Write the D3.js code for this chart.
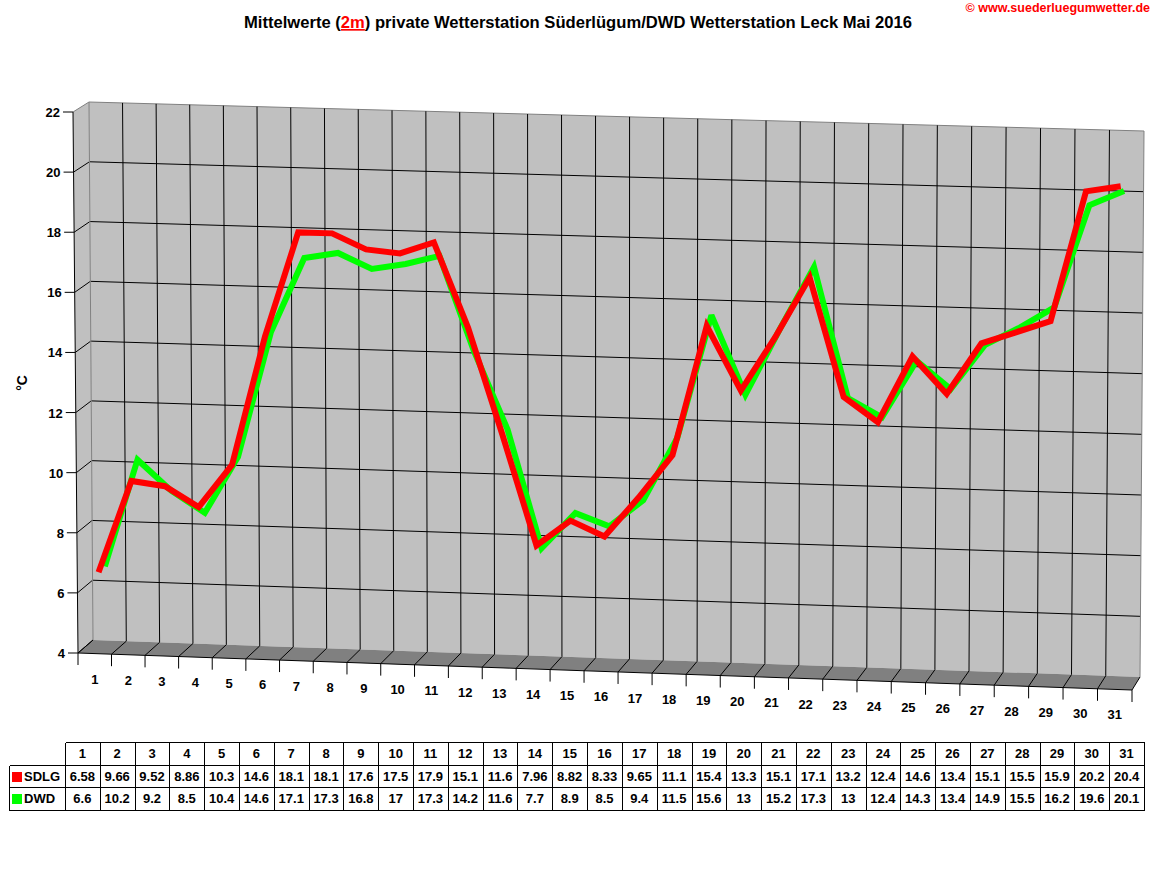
<!DOCTYPE html>
<html>
<head>
<meta charset="utf-8">
<script src="https://cdn.jsdelivr.net/npm/d3@7"></script>
<style>
    body { margin: 0; background: #fff; }
    svg { display: block; }
    text { font-family: "Liberation Sans", Arial, sans-serif; font-weight: bold; }
</style>
</head>
<body>
<div class="container"></div>
<script>
const days = d3.range(1, 32);
const sdlg = [6.58, 9.66, 9.52, 8.86, 10.3, 14.6, 18.1, 18.1, 17.6, 17.5, 17.9, 15.1, 11.6, 7.96, 8.82, 8.33,
    9.65, 11.1, 15.4, 13.3, 15.1, 17.1, 13.2, 12.4, 14.6, 13.4, 15.1, 15.5, 15.9, 20.2, 20.4];
const dwd = [6.6, 10.2, 9.2, 8.5, 10.4, 14.6, 17.1, 17.3, 16.8, 17, 17.3, 14.2, 11.6, 7.7, 8.9, 8.5,
    9.4, 11.5, 15.6, 13, 15.2, 17.3, 13, 12.4, 14.3, 13.4, 14.9, 15.5, 16.2, 19.6, 20.1];
const seriesNames = ['SDLG', 'DWD'];
const seriesColors = ['#ff0000', '#00ff00'];
const yDomain = [4, 22];

const w = 1152;
const h = 882;

// corners of the 3d box (front plane z=0, back plane z=1)
const front = { lb: [78, 653], lt: [73, 112], rb: [1132, 690], rt: [1136, 141] };
const back = { lb: [93, 640], lt: [89, 102], rb: [1140, 677], rt: [1144, 131] };

const lerp = (a, b, t) => [a[0] + (b[0] - a[0]) * t, a[1] + (b[1] - a[1]) * t];
const plane = (p, u, v) => lerp(lerp(p.lb, p.rb, u), lerp(p.lt, p.rt, u), v);
const proj = (u, v, z) => lerp(plane(front, u, v), plane(back, u, v), z);

const xLin = d3.scaleLinear().domain([0, days.length]).range([0, 1]);
const x = k => { const t = xLin(k); return t + 0.015 * (t * t - t); };
const y = d3.scaleLinear().domain(yDomain).range([0, 1]);
const yTicks = y.ticks(10);

const svg = d3.select('.container')
    .append('svg')
    .attr('width', w)
    .attr('height', h);

const poly = pts => 'M' + pts.map(p => p.join(',')).join('L') + 'Z';
const line = (g, a, b, color) => g.append('line')
    .attr('x1', a[0]).attr('y1', a[1])
    .attr('x2', b[0]).attr('y2', b[1])
    .attr('stroke', color)
    .attr('stroke-width', 1);

// title
const title = svg.append('text')
    .attr('x', 578)
    .attr('y', 28)
    .attr('text-anchor', 'middle')
    .style('font-size', '16.6px');
title.append('tspan').text('Mittelwerte (');
title.append('tspan').attr('fill', 'red').style('text-decoration', 'underline').text('2m');
title.append('tspan').text(') private Wetterstation Süderlügum/DWD Wetterstation Leck Mai 2016');

svg.append('text')
    .attr('x', 1150)
    .attr('y', 12)
    .attr('text-anchor', 'end')
    .attr('fill', 'red')
    .style('font-size', '12.5px')
    .text('© www.suederluegumwetter.de');

// walls + floor
const box = svg.append('g');
box.append('path')
    .attr('d', poly([proj(0, 0, 1), proj(0, 1, 1), proj(1, 1, 1), proj(1, 0, 1)]))
    .attr('fill', '#c0c0c0');
box.append('path')
    .attr('d', poly([proj(0, 0, 0), proj(0, 1, 0), proj(0, 1, 1), proj(0, 0, 1)]))
    .attr('fill', '#c0c0c0');
box.append('path')
    .attr('d', poly([proj(0, 0, 0), proj(1, 0, 0), proj(1, 0, 1), proj(0, 0, 1)]))
    .attr('fill', '#808080');

const grid = svg.append('g');
yTicks.forEach(t => {
    const v = y(t);
    const c = t === yDomain[1] ? '#808080' : '#000';
    if (t !== yDomain[0]) line(grid, proj(0, v, 1), proj(1, v, 1), c);
    line(grid, proj(0, v, 0), proj(0, v, 1), c);
});
d3.range(0, days.length + 1).forEach(k => {
    const u = x(k);
    const edge = k === 0 || k === days.length;
    line(grid, proj(u, 0, 1), proj(u, 1, 1), edge ? '#808080' : '#000');
    line(grid, proj(u, 0, 0), proj(u, 0, 1), '#000');
});
line(grid, proj(0, 0, 0), proj(1, 0, 0), '#000');
line(grid, proj(0, 0, 0), proj(0, 1, 0), '#000');

// axes
const axis = svg.append('g').style('font-size', '13px');
yTicks.forEach(t => {
    const p = proj(0, y(t), 0);
    line(axis, [p[0] - 10, p[1]], p, '#000');
    axis.append('text')
        .attr('x', p[0] - 13)
        .attr('y', p[1] + 5)
        .attr('text-anchor', 'end')
        .text(t);
});
d3.range(0, days.length + 1).forEach(k => {
    const p = proj(x(k), 0, 0);
    line(axis, p, [p[0], p[1] + 12], '#000');
});
days.forEach((d, i) => {
    const p = proj(x(i + 0.5), 0, 0);
    axis.append('text')
        .attr('x', p[0])
        .attr('y', p[1] + 30)
        .attr('text-anchor', 'middle')
        .text(d);
});
axis.append('text')
    .attr('transform', 'translate(27,383) rotate(-90)')
    .attr('text-anchor', 'middle')
    .style('font-size', '14px')
    .text('°C');

// series as thick 3d-ish lines, back one first
const depth = [0.3, 0.72];
const path = d3.line();
[dwd, sdlg].forEach((vals, j) => {
    const s = 1 - j;
    svg.append('path')
        .attr('d', path(vals.map((v, i) => proj(x(i + 0.5), y(v), depth[s]))))
        .attr('fill', 'none')
        .attr('stroke', seriesColors[s])
        .attr('stroke-width', 6)
        .attr('stroke-linejoin', 'miter')
        .attr('stroke-miterlimit', 3);
});

// data table
const cols = d3.scaleBand().domain(days).range([65, 1144]);
const rows = d3.scaleBand().domain(['head', ...seriesNames]).range([742, 809.5]);
const table = svg.append('g').style('font-size', '13px').attr('shape-rendering', 'crispEdges');
const px = v => Math.round(v) + 0.5;
const bottom = rows.range()[1];
line(table, [px(65), px(rows('head'))], [px(1144), px(rows('head'))], '#000');
seriesNames.forEach(n => line(table, [px(9), px(rows(n))], [px(1144), px(rows(n))], '#000'));
line(table, [px(9), px(bottom)], [px(1144), px(bottom)], '#000');
line(table, [px(9), px(rows('SDLG'))], [px(9), px(bottom)], '#000');
days.forEach(d => line(table, [px(cols(d)), px(rows('head'))], [px(cols(d)), px(bottom)], '#000'));
line(table, [px(1144), px(rows('head'))], [px(1144), px(bottom)], '#000');

const mid = r => rows(r) + rows.bandwidth() / 2 + 4.8;
days.forEach(d => table.append('text')
    .attr('x', cols(d) + cols.bandwidth() / 2)
    .attr('y', mid('head'))
    .attr('text-anchor', 'middle')
    .text(d));
[sdlg, dwd].forEach((vals, s) => {
    const n = seriesNames[s];
    table.append('rect')
        .attr('x', 12).attr('y', rows(n) + 7)
        .attr('width', 10).attr('height', 10)
        .attr('fill', seriesColors[s]);
    table.append('text')
        .attr('x', 24)
        .attr('y', mid(n))
        .text(n);
    vals.forEach((v, i) => table.append('text')
        .attr('x', cols(days[i]) + cols.bandwidth() / 2)
        .attr('y', mid(n))
        .attr('text-anchor', 'middle')
        .text(String(v)));
});
</script>
</body>
</html>
